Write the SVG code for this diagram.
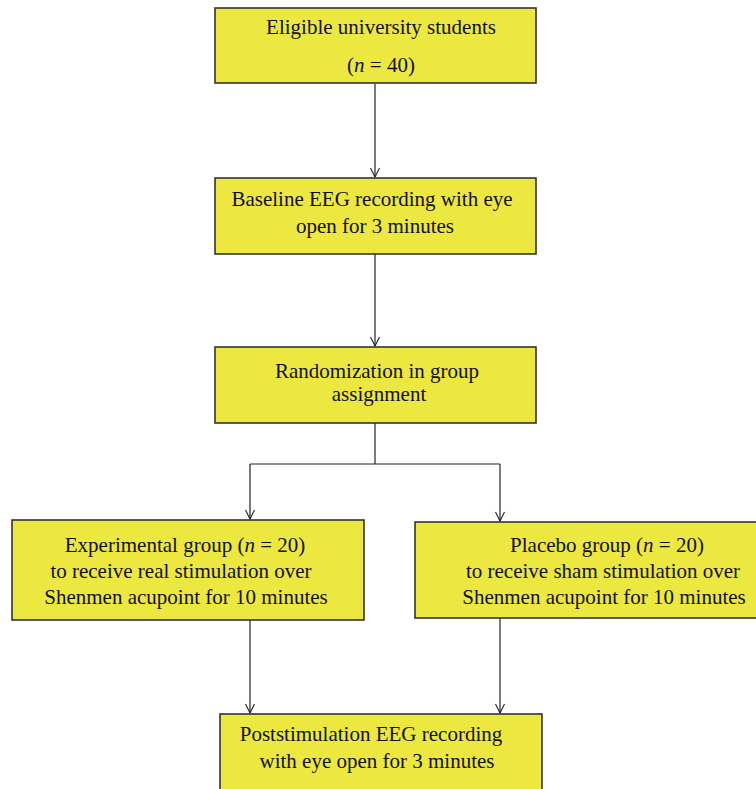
<svg xmlns="http://www.w3.org/2000/svg" width="756" height="789" viewBox="0 0 756 789">
<defs>
<marker id="arr" markerWidth="12" markerHeight="10" refX="10" refY="5" orient="auto" markerUnits="userSpaceOnUse">
<path d="M1,0.5 L10,5 L1,9.5" fill="none" stroke="#222" stroke-width="1.1"/>
</marker>
<style>
.box{fill:#ede83f;stroke:#333;stroke-width:1.6}
.t{font-family:"Liberation Serif",serif;font-size:21px;fill:#111;text-anchor:middle}
.c{fill:none;stroke:#222;stroke-width:1.2}
</style>
</defs>
<rect width="756" height="789" fill="#fff"/>
<g id="connectors">
<line class="c" x1="375" y1="84" x2="375" y2="177" marker-end="url(#arr)"/>
<line class="c" x1="375" y1="254" x2="375" y2="346" marker-end="url(#arr)"/>
<polyline class="c" points="375,423 375,464"/>
<polyline class="c" points="250,464 500,464"/>
<line class="c" x1="250" y1="464" x2="250" y2="519" marker-end="url(#arr)"/>
<line class="c" x1="500" y1="464" x2="500" y2="521" marker-end="url(#arr)"/>
<line class="c" x1="250" y1="620" x2="250" y2="713" marker-end="url(#arr)"/>
<line class="c" x1="500" y1="618" x2="500" y2="713" marker-end="url(#arr)"/>
</g>
<g id="n1">
<rect class="box" x="215" y="8" width="321" height="75"/>
<text class="t" x="381" y="34">Eligible university students</text>
<text class="t" x="381" y="72">(<tspan font-style="italic">n</tspan> = 40)</text>
</g>
<g id="n2">
<rect class="box" x="215" y="178" width="321" height="76"/>
<text class="t" x="372" y="206">Baseline EEG recording with eye</text>
<text class="t" x="375" y="233">open for 3 minutes</text>
</g>
<g id="n3">
<rect class="box" x="215" y="347" width="321" height="76"/>
<text class="t" x="377" y="378">Randomization in group</text>
<text class="t" x="379" y="401">assignment</text>
</g>
<g id="n4">
<rect class="box" x="12" y="520" width="352" height="100"/>
<text class="t" x="185" y="552">Experimental group (<tspan font-style="italic">n</tspan> = 20)</text>
<text class="t" x="181" y="578">to receive real stimulation over</text>
<text class="t" x="186" y="604">Shenmen acupoint for 10 minutes</text>
</g>
<g id="n5">
<rect class="box" x="415" y="522" width="350" height="96"/>
<text class="t" x="607" y="552">Placebo group (<tspan font-style="italic">n</tspan> = 20)</text>
<text class="t" x="603" y="578">to receive sham stimulation over</text>
<text class="t" x="604" y="604">Shenmen acupoint for 10 minutes</text>
</g>
<g id="n6">
<rect class="box" x="220" y="714" width="322" height="90"/>
<text class="t" x="371" y="741">Poststimulation EEG recording</text>
<text class="t" x="377" y="768">with eye open for 3 minutes</text>
</g>
</svg>
